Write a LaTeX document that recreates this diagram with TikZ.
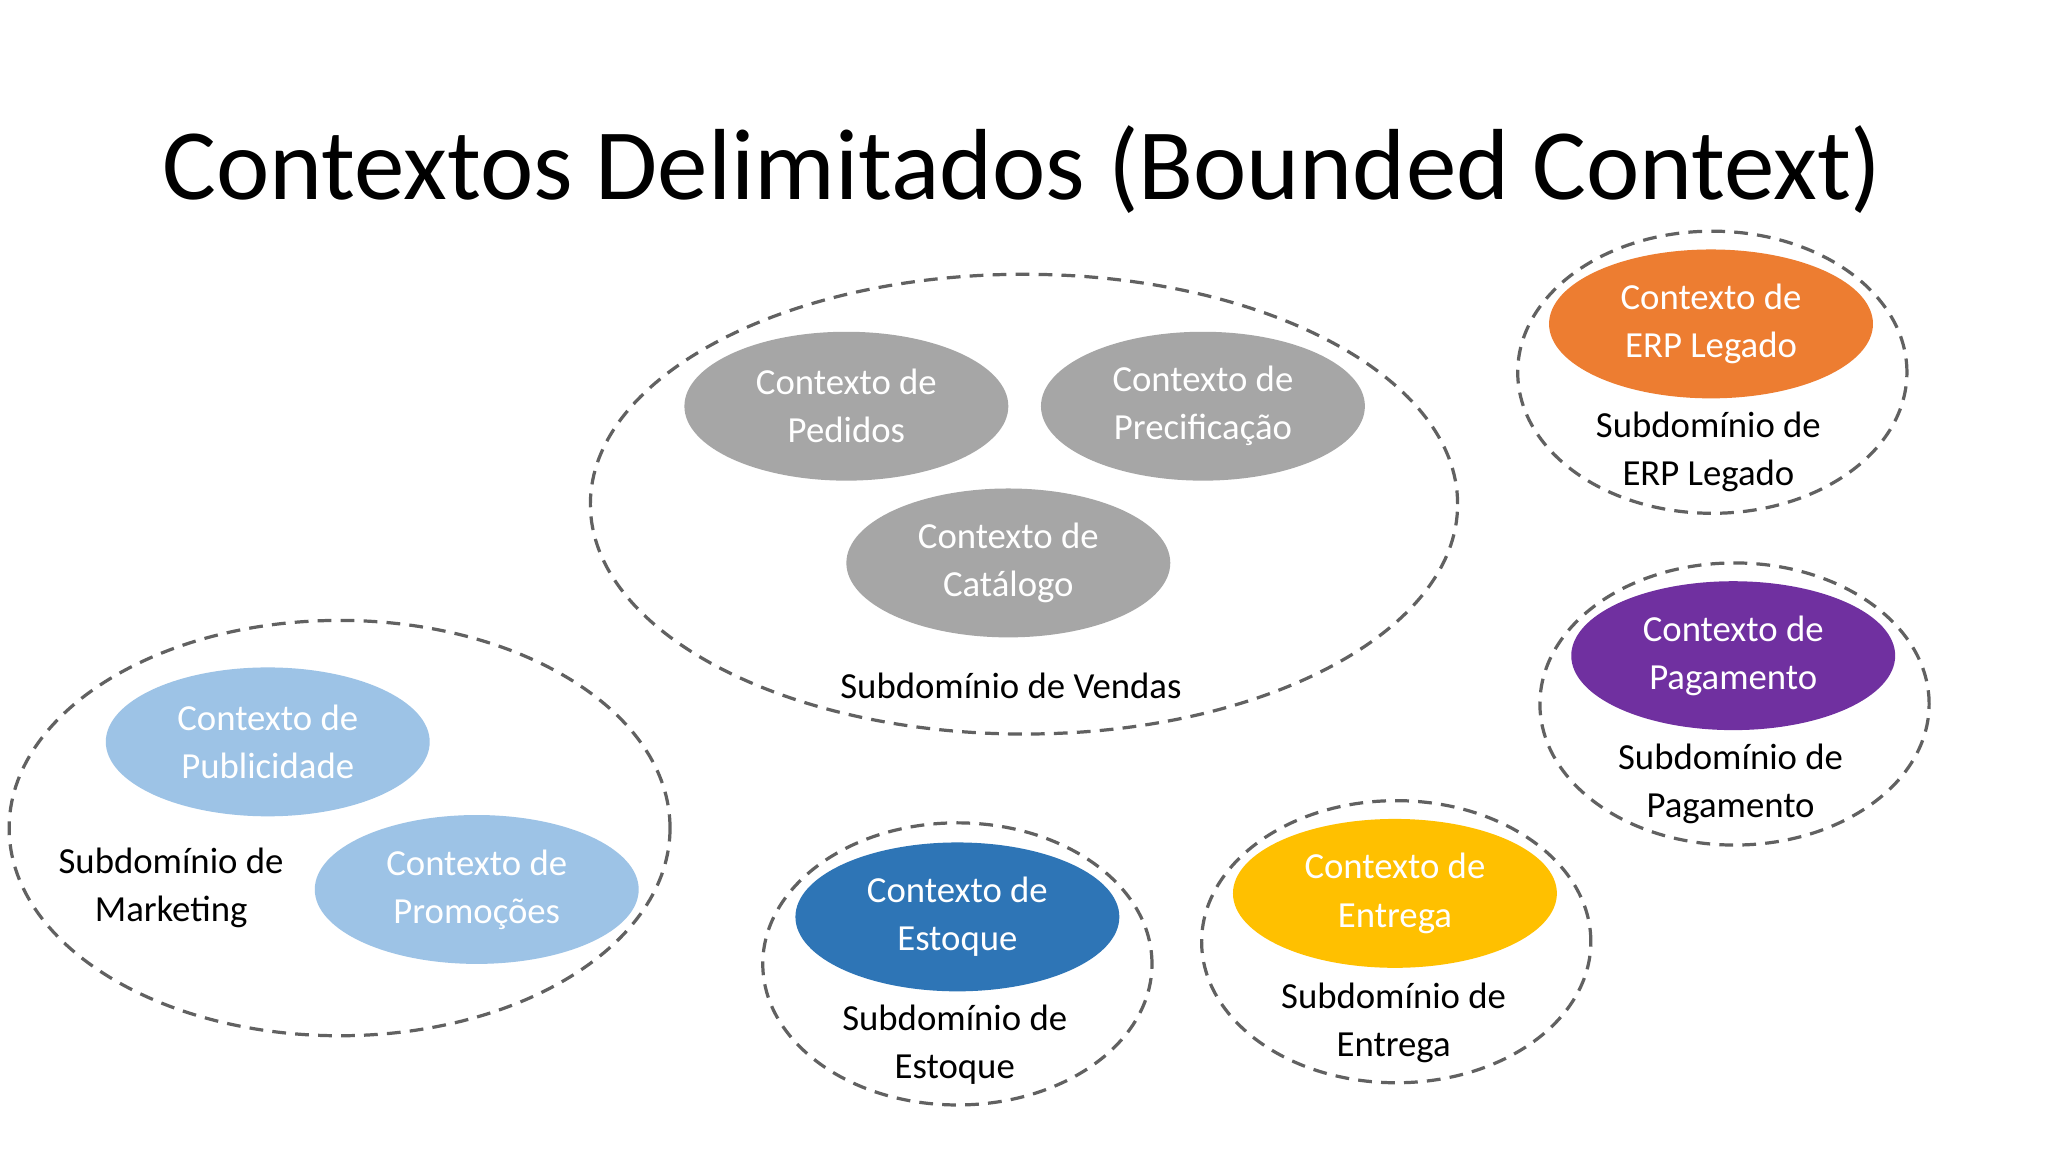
\documentclass[tikz,border=0pt]{standalone}
\usepackage{fontspec}
\setmainfont{Carlito}
\usetikzlibrary{shapes.geometric}
\begin{document}
\begin{tikzpicture}[x=0.01cm,y=-0.01cm,
  ctx/.style={ellipse,inner sep=0pt,minimum width=248*0.01cm,minimum height=114*0.01cm,text=white,align=center,font=\fontsize{8}{10.5}\selectfont},
  sub/.style={ellipse,draw=black!62,dash pattern=on 3pt off 2pt,line width=0.7pt,inner sep=0pt},
  lbl/.style={align=center,font=\fontsize{8}{10.5}\selectfont,text=black},
  small/.style={sub,minimum width=298*0.01cm,minimum height=216*0.01cm}]
\useasboundingbox (0,0) rectangle (1568,882);
\fill[white] (0,0) rectangle (1568,882);
\node[anchor=west,font=\fontsize{22}{26}\selectfont] (title) at (112,130) {Contextos Delimitados (Bounded Context)};
% Vendas
\node[sub,minimum width=664*0.01cm,minimum height=352*0.01cm] (vendas) at (784,386) {};
\node[ctx,fill=black!35] (pedidos) at (648,311) {Contexto de\\Pedidos};
\node[ctx,fill=black!35] (prec) at (921,311) {Contexto de\\Precificação};
\node[ctx,fill=black!35] (cat) at (772,431) {Contexto de\\Catálogo};
\node[lbl] (lv) at (774,525) {Subdomínio de Vendas};
% ERP
\node[small] (erp) at (1311,285) {};
\node[ctx,fill=orange!80!red!90!white,fill={rgb,255:red,237;green,125;blue,49}] (cerp) at (1310,248) {Contexto de\\ERP Legado};
\node[lbl] (lerp) at (1308,346) {Subdomínio de\\ERP Legado};
% Pagamento
\node[small] (pag) at (1328,539) {};
\node[ctx,fill={rgb,255:red,112;green,48;blue,160}] (cpag) at (1327,502) {Contexto de\\Pagamento};
\node[lbl] (lpag) at (1325,600) {Subdomínio de\\Pagamento};
% Marketing
\node[sub,minimum width=506*0.01cm,minimum height=318*0.01cm] (mkt) at (260,634) {};
\node[ctx,fill={rgb,255:red,157;green,195;blue,230}] (pub) at (205,568) {Contexto de\\Publicidade};
\node[ctx,fill={rgb,255:red,157;green,195;blue,230}] (prom) at (365,681) {Contexto de\\Promoções};
\node[lbl] (lmkt) at (131,680) {Subdomínio de\\Marketing};
% Estoque
\node[small] (est) at (733,738) {};
\node[ctx,fill={rgb,255:red,46;green,117;blue,182}] (cest) at (733,702) {Contexto de\\Estoque};
\node[lbl] (lest) at (731,800) {Subdomínio de\\Estoque};
% Entrega
\node[small] (ent) at (1069,721) {};
\node[ctx,fill={rgb,255:red,255;green,192;blue,0}] (cent) at (1068,684) {Contexto de\\Entrega};
\node[lbl] (lent) at (1067,783) {Subdomínio de\\Entrega};
\end{tikzpicture}
\end{document}
